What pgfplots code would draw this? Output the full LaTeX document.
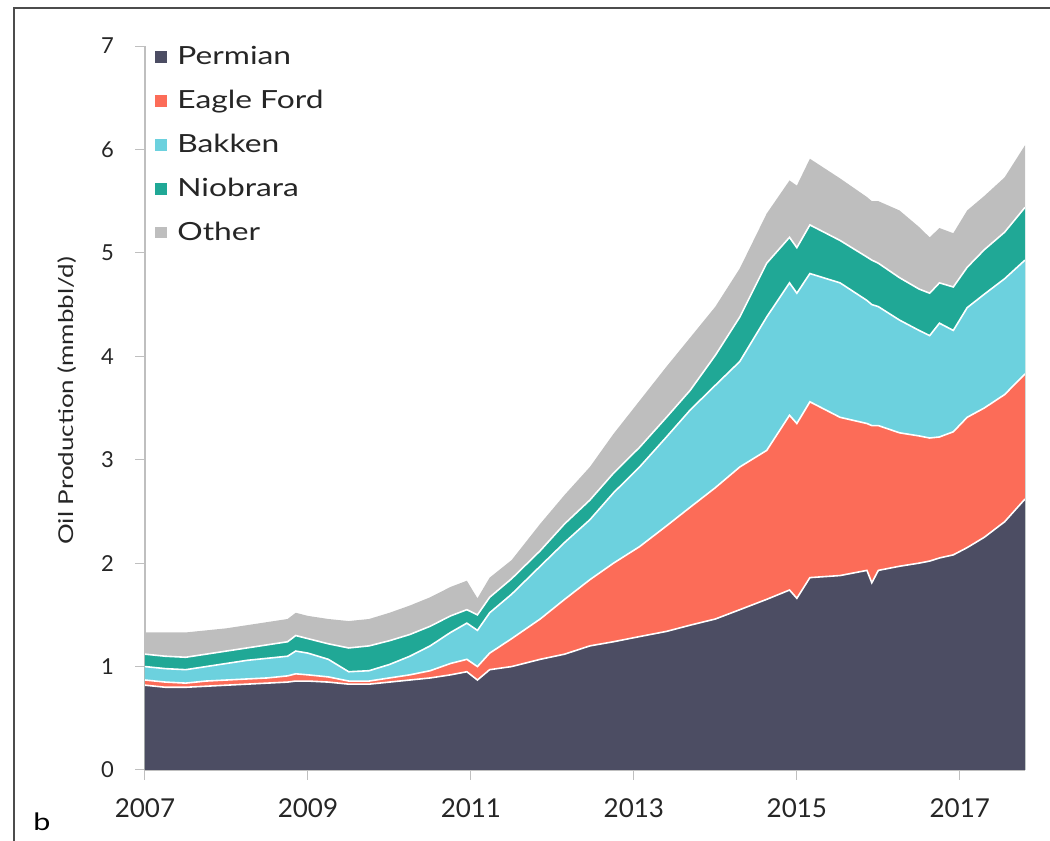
\documentclass[border=0pt]{standalone}
\usepackage{pgfplots}
\pgfplotsset{compat=1.18}
\usepackage{pgfplotstable}
\usepackage{fontspec}
\setmainfont{Lato}
\newfontfamily\wide[FakeStretch=1.27]{Lato}
\definecolor{cPerm}{RGB}{76,77,99}
\definecolor{cEagle}{RGB}{252,108,88}
\definecolor{cBakken}{RGB}{108,209,222}
\definecolor{cNio}{RGB}{32,168,150}
\definecolor{cOther}{RGB}{190,190,190}
\pgfplotstableread{
t c1 c2 c3 c4 c5
2007.00 0.82 0.87 1.00 1.12 1.33
2007.25 0.80 0.85 0.98 1.10 1.33
2007.50 0.80 0.84 0.97 1.09 1.33
2007.75 0.81 0.86 1.00 1.12 1.35
2008.00 0.82 0.87 1.03 1.15 1.37
2008.25 0.83 0.88 1.06 1.18 1.40
2008.50 0.84 0.89 1.08 1.21 1.43
2008.75 0.85 0.91 1.10 1.24 1.46
2008.85 0.86 0.93 1.15 1.30 1.52
2009.00 0.86 0.92 1.13 1.27 1.49
2009.25 0.85 0.90 1.07 1.22 1.46
2009.50 0.83 0.86 0.95 1.18 1.44
2009.75 0.83 0.86 0.96 1.20 1.46
2010.00 0.85 0.89 1.02 1.25 1.52
2010.25 0.87 0.92 1.10 1.31 1.59
2010.50 0.89 0.96 1.20 1.39 1.67
2010.75 0.92 1.03 1.33 1.49 1.77
2010.95 0.95 1.07 1.42 1.55 1.83
2011.08 0.87 1.00 1.35 1.50 1.66
2011.23 0.97 1.13 1.52 1.67 1.86
2011.50 1.00 1.27 1.70 1.85 2.03
2011.85 1.07 1.46 1.97 2.12 2.38
2012.15 1.12 1.65 2.20 2.38 2.66
2012.46 1.20 1.84 2.42 2.61 2.93
2012.75 1.24 2.00 2.68 2.87 3.25
2013.07 1.29 2.16 2.93 3.12 3.57
2013.40 1.34 2.36 3.22 3.41 3.90
2013.69 1.40 2.54 3.48 3.67 4.18
2014.00 1.46 2.73 3.72 4.01 4.48
2014.30 1.55 2.93 3.95 4.38 4.85
2014.63 1.65 3.09 4.38 4.90 5.38
2014.91 1.74 3.43 4.71 5.15 5.70
2015.00 1.66 3.35 4.61 5.05 5.65
2015.16 1.86 3.56 4.80 5.27 5.91
2015.53 1.88 3.41 4.71 5.12 5.72
2015.86 1.93 3.35 4.54 4.96 5.54
2015.92 1.81 3.33 4.50 4.93 5.50
2016.00 1.93 3.33 4.48 4.90 5.50
2016.26 1.97 3.26 4.35 4.76 5.41
2016.50 2.00 3.23 4.25 4.65 5.25
2016.63 2.02 3.21 4.20 4.61 5.15
2016.75 2.05 3.22 4.32 4.71 5.24
2016.92 2.08 3.27 4.25 4.67 5.19
2017.09 2.15 3.41 4.47 4.86 5.41
2017.30 2.25 3.50 4.60 5.03 5.55
2017.55 2.40 3.63 4.75 5.20 5.73
2017.80 2.62 3.83 4.93 5.44 6.04
}\data
\begin{document}
\begin{tikzpicture}
\path[use as bounding box] (0,0) rectangle (525pt,420.5pt);
\draw[line width=1pt, black!70] (7pt,0pt) -- (7pt,416.5pt) -- (525pt,416.5pt);
\node[font=\wide\fontsize{12}{14}\selectfont] at (21pt,9.5pt) {b};
\begin{axis}[
  at={(72.5pt,35.5pt)}, anchor=south west,
  scale only axis, width=440pt, height=362pt,
  xmin=2007, xmax=2017.8, ymin=0, ymax=7,
  axis x line=bottom, axis y line=left,
  axis line style={-, black!25, line width=0.6pt},
  xtick={2007,2009,...,2017}, ytick={0,1,...,7},
  tick align=outside, major tick length=5pt,
  tick style={black!25, line width=0.5pt},
  /pgf/number format/assume math mode=true,
  /pgf/number format/1000 sep={},
  x tick label style={font=\fontsize{13}{15}\selectfont, text=black!85, yshift=-6pt},
  y tick label style={font=\fontsize{11}{13}\selectfont, text=black!85, xshift=-7pt},
  ylabel={Oil Production (mmbbl/d)},
  ylabel style={at={(axis description cs:-0.088,0.51)}, anchor=center, font=\wide\fontsize{10.2}{12}\selectfont, text=black!85},
  legend style={at={(0.0043,1.011)}, anchor=north west, draw=none, fill=none,
    font=\wide\fontsize{12.5}{15}\selectfont, row sep=7.25pt, text=black!85,
    /tikz/every odd column/.append style={column sep=3.5pt}},
  legend cell align=left,
]
\addlegendimage{legend image code/.code={\fill[cPerm] (0pt,-2.6pt) rectangle (5.2pt,2.6pt);}}
\addlegendentry{Permian}
\addlegendimage{legend image code/.code={\fill[cEagle] (0pt,-2.6pt) rectangle (5.2pt,2.6pt);}}
\addlegendentry{Eagle Ford}
\addlegendimage{legend image code/.code={\fill[cBakken] (0pt,-2.6pt) rectangle (5.2pt,2.6pt);}}
\addlegendentry{Bakken}
\addlegendimage{legend image code/.code={\fill[cNio] (0pt,-2.6pt) rectangle (5.2pt,2.6pt);}}
\addlegendentry{Niobrara}
\addlegendimage{legend image code/.code={\fill[cOther] (0pt,-2.6pt) rectangle (5.2pt,2.6pt);}}
\addlegendentry{Other}
\addplot[fill=cOther, draw=none, forget plot] table[x=t,y=c5] {\data} \closedcycle;
\addplot[fill=cNio, draw=none, forget plot] table[x=t,y=c4] {\data} \closedcycle;
\addplot[fill=cBakken, draw=none, forget plot] table[x=t,y=c3] {\data} \closedcycle;
\addplot[fill=cEagle, draw=none, forget plot] table[x=t,y=c2] {\data} \closedcycle;
\addplot[fill=cPerm, draw=none, forget plot] table[x=t,y=c1] {\data} \closedcycle;
\addplot[white, line width=0.8pt, forget plot] table[x=t,y=c4] {\data};
\addplot[white, line width=0.8pt, forget plot] table[x=t,y=c3] {\data};
\addplot[white, line width=0.8pt, forget plot] table[x=t,y=c2] {\data};
\addplot[white, line width=0.8pt, forget plot] table[x=t,y=c1] {\data};
\end{axis}
\end{tikzpicture}
\end{document}
